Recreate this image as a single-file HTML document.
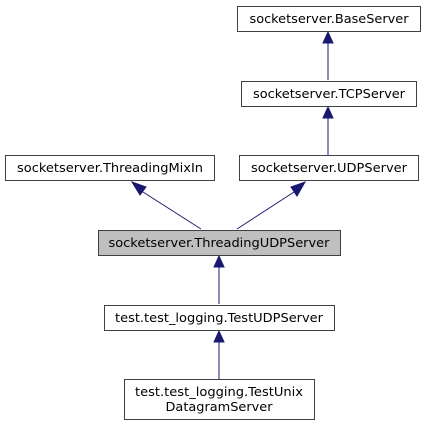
<!DOCTYPE html>
<html><head><style>body{margin:0;background:#fff}svg{display:block}</style></head>
<body>
<svg width="425" height="425" viewBox="0 0 425 425" xmlns="http://www.w3.org/2000/svg" font-family="DejaVu Sans, Liberation Sans, sans-serif" font-size="12">
<g stroke="#191970" stroke-width="1" fill="none">
<line x1="328" y1="80" x2="328" y2="42"/>
<line x1="328" y1="155" x2="328" y2="117"/>
<line x1="201" y1="229" x2="143" y2="192"/>
<line x1="237" y1="229" x2="294" y2="192"/>
<line x1="219" y1="304" x2="219" y2="266"/>
<line x1="219" y1="379" x2="219" y2="341"/>
</g>
<g fill="#191970" stroke="#191970">
<polygon points="328,32 323,43 333,43"/>
<polygon points="328,107 323,118 333,118"/>
<polygon points="132,182 140,195 146,187"/>
<polygon points="305,182 297,196 291,187"/>
<polygon points="219,256 214,267 224,267"/>
<polygon points="219,331 214,342 224,342"/>
</g>
<g stroke="#404040" stroke-width="1" fill="#fff">
<rect x="237.5" y="6.5" width="183" height="25"/>
<rect x="241.5" y="81.5" width="175" height="25"/>
<rect x="5.5" y="155.5" width="209" height="25"/>
<rect x="239.5" y="155.5" width="179" height="25"/>
<rect x="98.5" y="230.5" width="242" height="25" fill="#bfbfbf"/>
<rect x="104.5" y="305.5" width="230" height="25"/>
<rect x="124.5" y="379.5" width="190" height="40"/>
</g>
<g fill="#000" text-anchor="middle">
<text x="329" y="23" textLength="159" lengthAdjust="spacingAndGlyphs">socketserver.BaseServer</text>
<text x="329" y="98" textLength="152" lengthAdjust="spacingAndGlyphs">socketserver.TCPServer</text>
<text x="110" y="172" textLength="186" lengthAdjust="spacingAndGlyphs">socketserver.ThreadingMixIn</text>
<text x="329" y="172" textLength="156" lengthAdjust="spacingAndGlyphs">socketserver.UDPServer</text>
<text x="219" y="247" textLength="221" lengthAdjust="spacingAndGlyphs">socketserver.ThreadingUDPServer</text>
<text x="219" y="322" textLength="208" lengthAdjust="spacingAndGlyphs">test.test_logging.TestUDPServer</text>
<text x="219" y="396" textLength="168" lengthAdjust="spacingAndGlyphs">test.test_logging.TestUnix</text>
<text x="219" y="411" textLength="107" lengthAdjust="spacingAndGlyphs">DatagramServer</text>
</g>
</svg>
</body></html>
